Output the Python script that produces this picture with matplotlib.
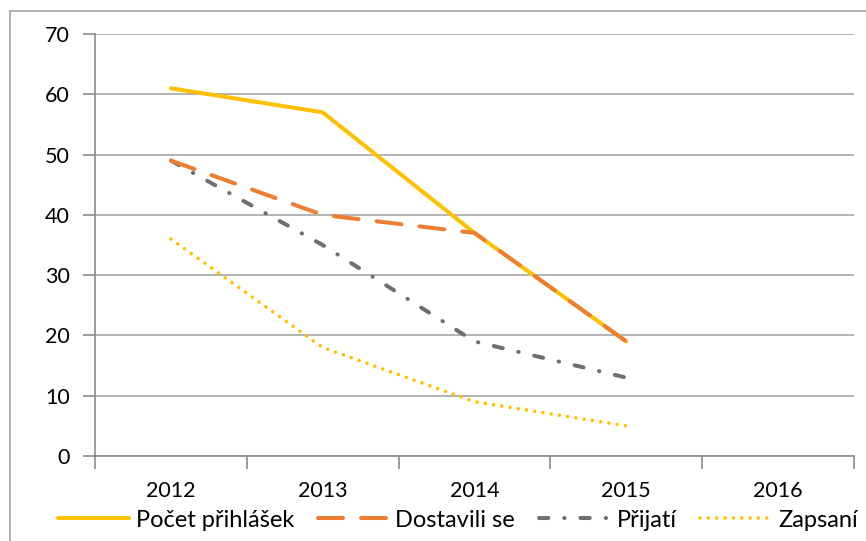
import numpy as np
import matplotlib.pyplot as plt
from matplotlib.lines import Line2D

years = ["2012", "2013", "2014", "2015", "2016"]
pocet = [61, 57, 37, 19]
dostavili = [49, 40, 37, 19]
prijati = [49, 35, 19, 13]
zapsani = [36, 18, 9, 5]

plt.rcParams['font.family'] = ['Lato', 'DejaVu Sans']

fig = plt.figure(figsize=(8.66, 5.41), dpi=100)
ax = fig.add_axes([95/866, 1-456/541, (854-95)/866, (456-34)/541])

x = np.arange(len(pocet))
ax.plot(x, pocet, color="#FFC000", lw=2.9, solid_capstyle="round", label="Počet přihlášek", zorder=3)
ax.plot(x, dostavili, color="#ED7D31", lw=2.9, dashes=(6.2, 4.5), dash_capstyle="round", label="Dostavili se", zorder=4)
ax.plot(x, prijati, color="#6F6F6F", lw=2.9, dashes=(2.3, 3.95, 0.1, 3.95), dash_capstyle="round", label="Přijatí", zorder=3)
ax.plot(x, zapsani, color="#FFC000", lw=2.6, dashes=(0.01, 2.3), dash_capstyle="round", label="Zapsaní", zorder=3)

ax.set_xlim(-0.5, len(years) - 0.5)
ax.set_ylim(0, 70)
ax.set_yticks(range(0, 71, 10))
ax.set_xticks(range(len(years)))
ax.set_xticklabels(years)
ax.set_xticks(np.arange(-0.5, len(years)), minor=True)
ax.grid(axis="y", color="#A6A6A6", lw=1.2)
ax.set_axisbelow(True)
for s in ["top", "right"]:
    ax.spines[s].set_visible(False)
for s in ["left", "bottom"]:
    ax.spines[s].set_color("#8C8C8C")
    ax.spines[s].set_linewidth(1.2)
ax.tick_params(axis="y", length=9, width=1.2, color="#8C8C8C", labelsize=15.5, pad=9)
ax.tick_params(axis="x", which="major", length=0, labelsize=15.5, pad=18)
ax.tick_params(axis="x", which="minor", length=9, width=1.2, color="#8C8C8C")

leg = ax.legend(loc="center", bbox_to_anchor=(0.478, -0.152), ncol=4, frameon=False,
                fontsize=17, handlelength=3.0, columnspacing=1.0, handletextpad=0.3)

fig.add_artist(Line2D([10/866, 10/866], [0, 1-11/541], color="#A6A6A6", lw=1.2))
fig.add_artist(Line2D([10/866, 1], [1-11/541, 1-11/541], color="#A6A6A6", lw=1.2))

fig.savefig("out.png", dpi=100)
